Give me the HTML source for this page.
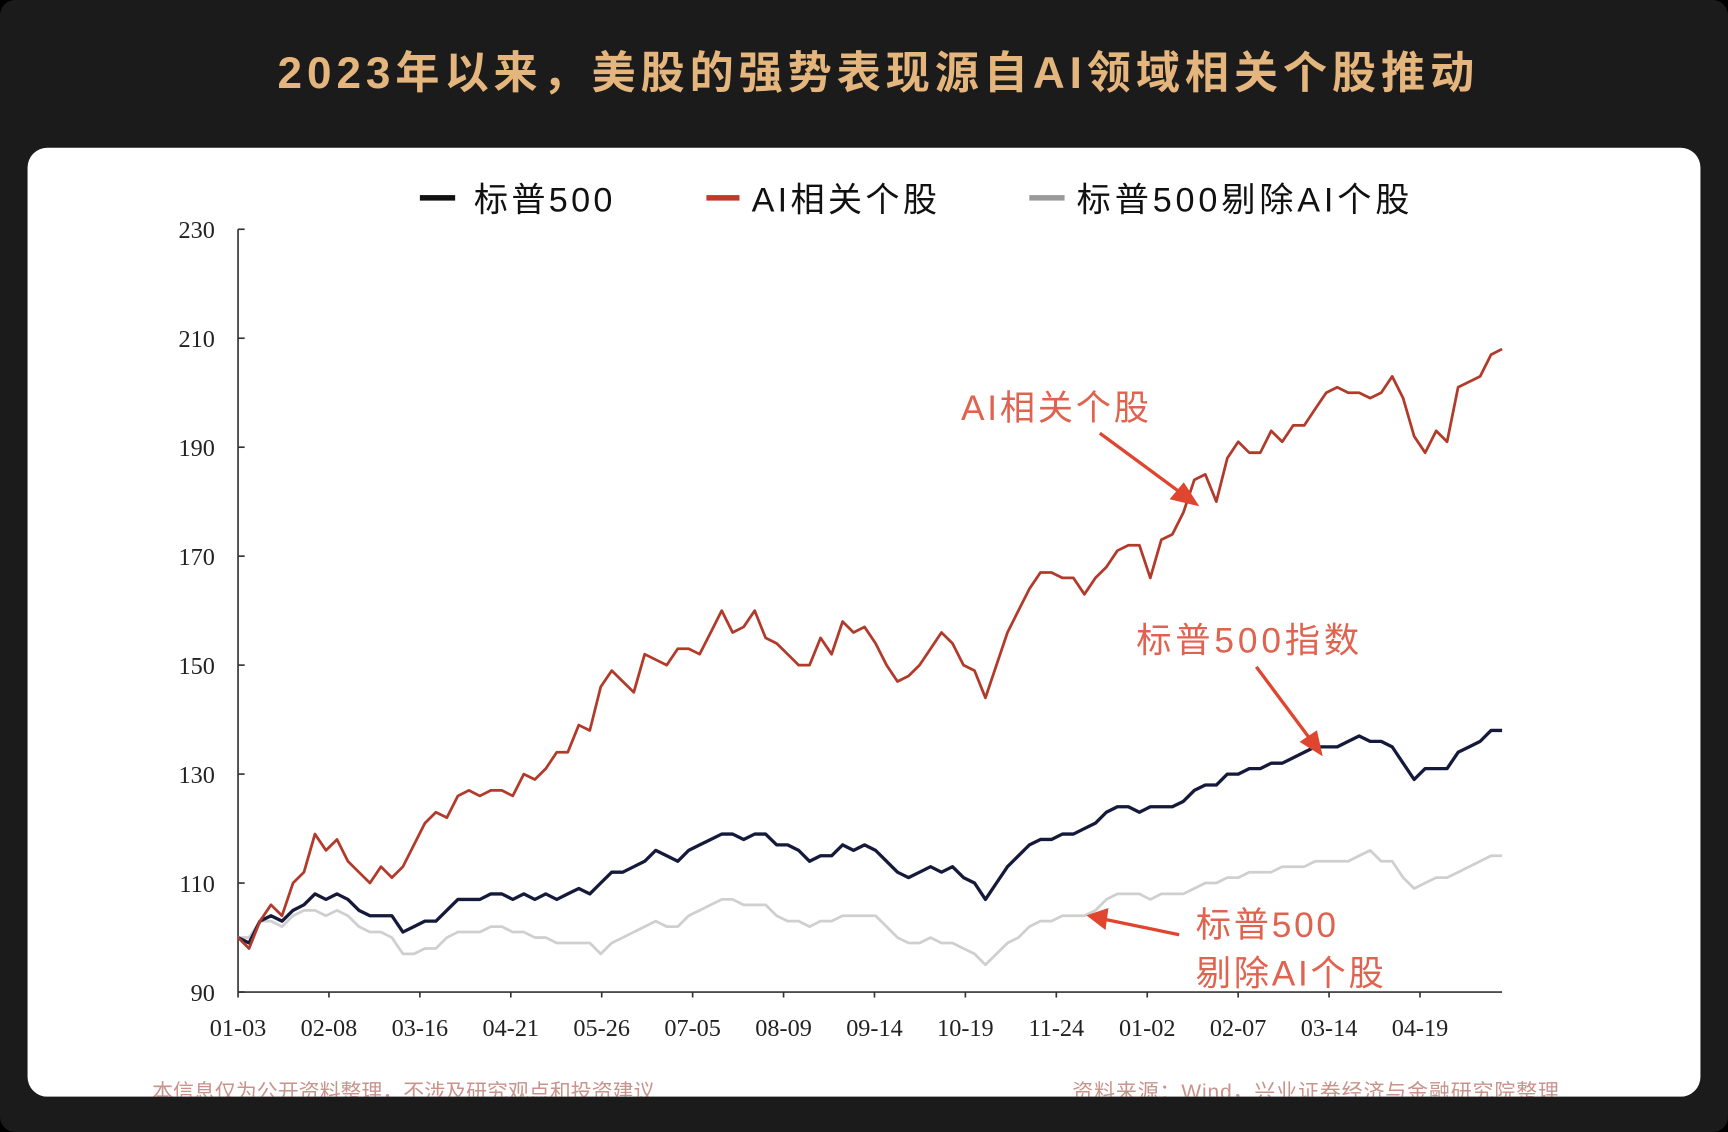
<!DOCTYPE html>
<html><head><meta charset="utf-8">
<style>
html,body{margin:0;padding:0;background:#000;}
svg{display:block;}
</style></head>
<body>
<svg id="chart" width="1728" height="1132" viewBox="0 0 1568 1027" preserveAspectRatio="none" xmlns="http://www.w3.org/2000/svg">
  <rect x="0" y="0" width="1568" height="1027" rx="14" fill="#1b1b1b"/>
  <text x="797" y="80" text-anchor="middle" letter-spacing="4.5" font-family="Liberation Sans, Noto Sans CJK SC, sans-serif" font-size="40" font-weight="bold" fill="#e4b57c">2023年以来，美股的强势表现源自AI领域相关个股推动</text>
  <rect x="25" y="134" width="1518" height="861" rx="18" fill="#fff"/>
  <g font-family="Liberation Sans, Noto Sans CJK SC, sans-serif" font-size="31" fill="#111" letter-spacing="3">
    <g><rect x="381" y="177" width="32" height="5" fill="#111"/><text x="430" y="192">标普500</text></g>
    <g><rect x="641" y="177" width="30" height="5" fill="#c0392b"/><text x="682" y="192">AI相关个股</text></g>
    <g><rect x="934" y="177" width="32" height="5" fill="#9a9a9a"/><text x="977" y="192" letter-spacing="3.5">标普500剔除AI个股</text></g>
  </g>
  <g id="axes"></g>
  <g id="series"></g>
  <g font-family="Liberation Sans, Noto Sans CJK SC, sans-serif" font-size="32" fill="#e0634f" letter-spacing="2.5">
    <text x="872" y="381">AI相关个股</text>
    <text x="1031" y="592" letter-spacing="3.5">标普500指数</text>
    <text x="1085" y="850">标普500</text>
    <text x="1085" y="894">剔除AI个股</text>
    <g stroke="#e0452f" stroke-width="3" fill="#e0452f">
      <line x1="998" y1="393" x2="1074" y2="449"/>
      <polygon points="1085,457 1064,452 1074,440"/>
      <line x1="1140" y1="605" x2="1190" y2="672"/>
      <polygon points="1198,683 1182,673 1194,665"/>
      <line x1="1070" y1="848" x2="1002" y2="834"/>
      <polygon points="989,831 1004,826 1002,841"/>
    </g>
  </g>
  <g font-family="Liberation Sans, Noto Sans CJK SC, sans-serif" font-size="19" fill="#c8938a">
    <text x="138" y="997">本信息仅为公开资料整理，不涉及研究观点和投资建议</text>
    <text x="973" y="997" letter-spacing="0.8">资料来源：Wind，兴业证券经济与金融研究院整理</text>
  </g>
  <rect x="25" y="995" width="1518" height="32" fill="#1b1b1b"/>
</svg>
<script>
const yTicks = [90,110,130,150,170,190,210,230];
const xLabels = ["01-03","02-08","03-16","04-21","05-26","07-05","08-09","09-14","10-19","11-24","01-02","02-07","03-14","04-19"];
const aiValues = [100,98,103,106,104,110,112,119,116,118,114,112,110,113,111,113,117,121,123,122,126,127,126,127,127,126,130,129,131,134,134,139,138,146,149,147,145,152,151,150,153,153,152,156,160,156,157,160,155,154,152,150,150,155,152,158,156,157,154,150,147,148,150,153,156,154,150,149,144,150,156,160,164,167,167,166,166,163,166,168,171,172,172,166,173,174,178,184,185,180,188,191,189,189,193,191,194,194,197,200,201,200,200,199,200,203,199,192,189,193,191,201,202,203,207,208];
const spValues = [100,99,103,104,103,105,106,108,107,108,107,105,104,104,104,101,102,103,103,105,107,107,107,108,108,107,108,107,108,107,108,109,108,110,112,112,113,114,116,115,114,116,117,118,119,119,118,119,119,117,117,116,114,115,115,117,116,117,116,114,112,111,112,113,112,113,111,110,107,110,113,115,117,118,118,119,119,120,121,123,124,124,123,124,124,124,125,127,128,128,130,130,131,131,132,132,133,134,135,135,135,136,137,136,136,135,132,129,131,131,131,134,135,136,138,138];
const exAiValues = [100,100,103,103,102,104,105,105,104,105,104,102,101,101,100,97,97,98,98,100,101,101,101,102,102,101,101,100,100,99,99,99,99,97,99,100,101,102,103,102,102,104,105,106,107,107,106,106,106,104,103,103,102,103,103,104,104,104,104,102,100,99,99,100,99,99,98,97,95,97,99,100,102,103,103,104,104,104,105,107,108,108,108,107,108,108,108,109,110,110,111,111,112,112,112,113,113,113,114,114,114,114,115,116,114,114,111,109,110,111,111,112,113,114,115,115];

const NS = "http://www.w3.org/2000/svg";
const X0 = 216, X1 = 1363, Y0 = 900, Y1 = 208;
const yScale = v => Y0 - (v - 90) / (230 - 90) * (Y0 - Y1);
const xIdx = (i, n) => X0 + i * (X1 - X0) / (n - 1);
const xLabel = i => X0 + i * 82.5;

const axes = document.getElementById('axes');
function mk(tag, attrs, parent) {
  const el = document.createElementNS(NS, tag);
  for (const k in attrs) el.setAttribute(k, attrs[k]);
  parent.appendChild(el);
  return el;
}
let yl = mk('line', {x1:X0, y1:Y1, x2:X0, y2:Y0, stroke:'#333', 'stroke-width':1.5}, axes);


let xl = mk('line', {x1:X0, y1:Y0, x2:X1, y2:Y0, stroke:'#333', 'stroke-width':1.5}, axes);


yTicks.forEach(v => {
  const y = yScale(v);
  const tk = mk('line', {x1:X0, y1:y, x2:X0+6, y2:y, stroke:'#333', 'stroke-width':1.5}, axes);
  
  
  const t = mk('text', {x:195, y:y+8, 'text-anchor':'end', 'font-family':'Liberation Serif, serif', 'font-size':22, fill:'#222'}, axes);
  t.textContent = v;
  
  
});
xLabels.forEach((s, i) => {
  const x = xLabel(i);
  const tk = mk('line', {x1:x, y1:Y0, x2:x, y2:Y0+5, stroke:'#333', 'stroke-width':1.5}, axes);
  
  
  const t = mk('text', {x:x, y:940, 'text-anchor':'middle', 'font-family':'Liberation Serif, serif', 'font-size':22, fill:'#222'}, axes);
  t.textContent = s;
  
  
});

const series = document.getElementById('series');
function drawLine(vals, color, w, name) {
  const d = vals.map((v, i) => (i ? 'L' : 'M') + xIdx(i, vals.length).toFixed(1) + ',' + yScale(v).toFixed(1)).join(' ');
  const p = mk('path', {d:d, fill:'none', stroke:color, 'stroke-width':w, 'stroke-linejoin':'round'}, series);
  
  
}
drawLine(exAiValues, '#cfcfcf', 2.5, 'line-sp500-ex-ai');
drawLine(spValues, '#15193a', 3, 'line-sp500');
drawLine(aiValues, '#b23a2a', 2.5, 'line-ai-stocks');
</script>
</body></html>
